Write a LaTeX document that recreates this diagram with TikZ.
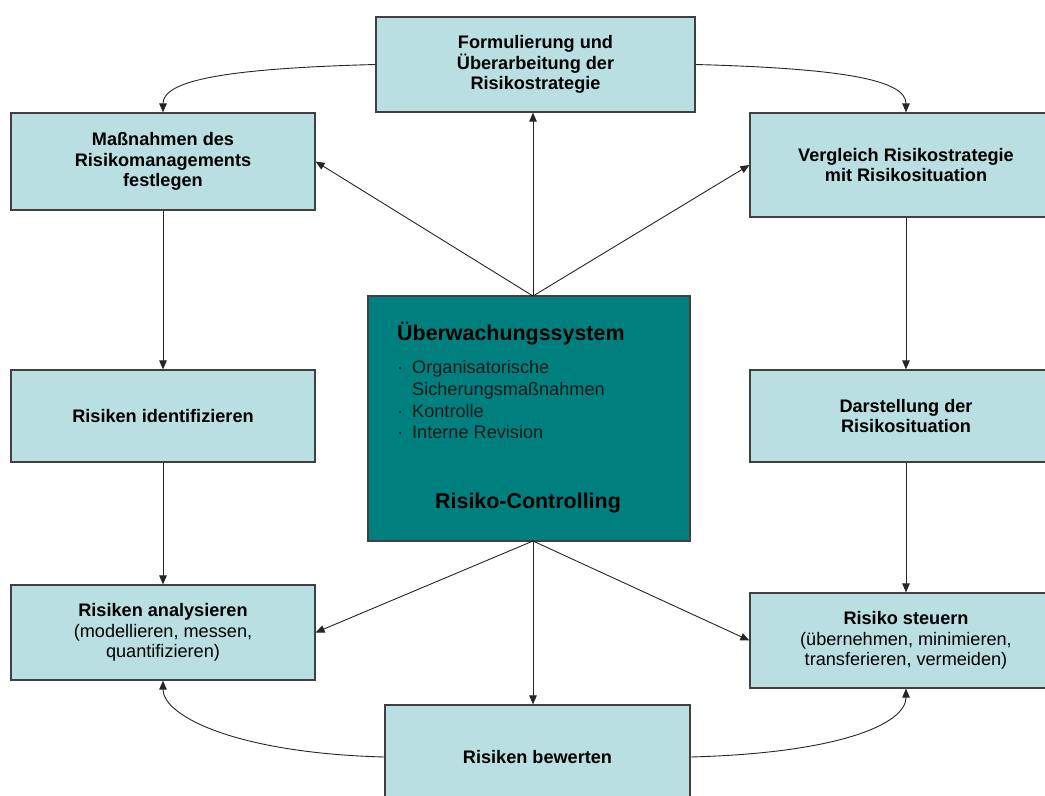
\documentclass[tikz,border=0pt]{standalone}
\usepackage{fontspec}
\setmainfont{Liberation Sans}
\usetikzlibrary{arrows.meta,calc}
\definecolor{boxfill}{HTML}{BADFE2}
\definecolor{ctrfill}{HTML}{007F7F}
\tikzset{
  box/.style={draw=black!75, line width=1.2bp, fill=boxfill, rectangle, align=center, inner sep=0pt,
    font=\fontsize{18.2}{20.5}\selectfont\bfseries},
  conn/.style={draw=black!85, line width=0.9bp, -{Triangle[length=9bp,width=7.5bp]}},
  ctxt/.style={anchor=base west, inner sep=0pt, text=black!90, font=\fontsize{18.2}{21}\selectfont},
}
\begin{document}
\begin{tikzpicture}[x=1bp,y=-1bp]
\useasboundingbox (0,0) rectangle (1045,796);
\clip (0,0) rectangle (1045,796);
\fill[white] (0,0) rectangle (1045,796);

\node[box, minimum width=319bp, minimum height=95bp] (T) at (535.5,64.5) {Formulierung und\\Überarbeitung der\\Risikostrategie};
\node[box, minimum width=304bp, minimum height=97bp] (L1) at (163,161.5) {Maßnahmen des\\Risikomanagements\\festlegen};
\node[box, minimum width=312bp, minimum height=104bp] (R1) at (906,165) {Vergleich Risikostrategie\\mit Risikosituation};
\node[box, minimum width=304bp, minimum height=92bp] (L2) at (163,416) {Risiken identifizieren};
\node[box, minimum width=312bp, minimum height=92bp] (R2) at (906,416) {Darstellung der\\Risikosituation};
\node[box, minimum width=304bp, minimum height=95bp] (L3) at (163,632.5) {Risiken analysieren\\\mdseries(modellieren, messen,\\\mdseries quantifizieren)};
\node[box, minimum width=312bp, minimum height=95bp] (R3) at (906,640.5) {Risiko steuern\\\mdseries(übernehmen, minimieren,\\\mdseries transferieren, vermeiden)};
\node[box, minimum width=305bp, minimum height=104bp] (B) at (537.5,757) {Risiken bewerten};

\node[draw=black!75, line width=1.2bp, fill=ctrfill, minimum width=322bp, minimum height=245bp, inner sep=0pt] (C) at (529,418.5) {};
\node[anchor=base west, inner sep=0pt, font=\fontsize{21.5}{24}\selectfont\bfseries] (ctitle) at (397,340) {Überwachungssystem};
\node[ctxt] (b1) at (397,373) {·};
\node[ctxt] (t1) at (412,373) {Organisatorische};
\node[ctxt] (t1b) at (412,395) {Sicherungsmaßnahmen};
\node[ctxt] (b2) at (397,417) {·};
\node[ctxt] (t2) at (412,417) {Kontrolle};
\node[ctxt] (b3) at (397,438) {·};
\node[ctxt] (t3) at (412,438) {Interne Revision};
\node[anchor=base, inner sep=0pt, font=\fontsize{21.5}{24}\selectfont\bfseries] (cfoot) at (528,508) {Risiko-Controlling};

\coordinate (ct) at (533,296);
\coordinate (cb) at (533,541);

\draw[conn] (ct) -- (ct |- T.south);
\draw[conn] (ct) -- (L1.east);
\draw[conn] (ct) -- (R1.west);
\draw[conn] (cb) -- (L3.east);
\draw[conn] (cb) -- (R3.west);
\draw[conn] (cb) -- (cb |- B.north);

\draw[conn] (L1.south) -- (L2.north);
\draw[conn] (L2.south) -- (L3.north);
\draw[conn] (R1.south) -- (R2.north);
\draw[conn] (R2.south) -- (R3.north);

\draw[conn] (T.west) .. controls +(-150,4) and +(0,-32) .. (L1.north);
\draw[conn] (T.east) .. controls +(150,4) and +(0,-32) .. (R1.north);
\draw[conn] (B.west) .. controls +(-150,-4) and +(0,35) .. (L3.south);
\draw[conn] (B.east) .. controls +(150,-4) and +(0,35) .. (R3.south);
\end{tikzpicture}
\end{document}
